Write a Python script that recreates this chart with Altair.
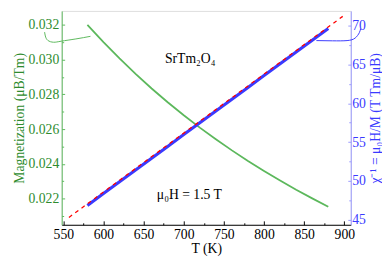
import altair as alt
import pandas as pd

# ---- data ----
T = [580, 600, 620, 640, 660, 680, 700, 720, 740, 760, 780, 800, 820, 840, 860, 880]
M = [0.03200, 0.03101, 0.03007, 0.02918, 0.02834, 0.02755, 0.02680, 0.02609,
     0.02542, 0.02478, 0.02417, 0.02360, 0.02305, 0.02252, 0.02202, 0.02154]
CHI_INV = [46.85, 48.37, 49.89, 51.41, 52.93, 54.45, 55.97, 57.49,
           59.01, 60.53, 62.05, 63.57, 65.09, 66.61, 68.13, 69.65]
FIT_T = [557, 898]
FIT_CHI = [45.3, 71.2]

# annotation hooks (data coordinates)
GA_T = [583.8, 565.7, 547.5, 537.9, 530.6, 527.6, 526.7]
GA_M = [0.03134, 0.03119, 0.03106, 0.03100, 0.03111, 0.03136, 0.03158]
BA_T = [865.2, 885.3, 903.4, 913.4, 918.7, 920.3]
BA_CHI = [68.08, 68.05, 68.08, 68.4, 69.1, 69.63]

X_TICKS = [550 + 25 * i for i in range(15)]
YL_TICKS = [0.021 + 0.001 * i for i in range(12)]
YR_TICKS = [45 + 2.5 * i for i in range(11)]

LABELS = ["SrTm₂O₄", "μ₀H = 1.5 T"]
LABEL_T = [708, 707]
LABEL_M = [0.03002, 0.02222]

GREEN = "#5cb85c"
GREEN_TXT = "#2e8b2e"
BLUE = "#3a3aff"
BLUE_AX = "#9a9aff"
RED = "#ff0000"
FONT = "Liberation Serif"

df_g = pd.DataFrame({"T": T, "M": M})
df_ga = pd.DataFrame({"T": GA_T, "M": GA_M, "i": range(len(GA_T))})
df_txt = pd.DataFrame({"T": LABEL_T, "M": LABEL_M, "txt": LABELS})
df_b = pd.DataFrame({"T": T, "C": CHI_INV})
df_fit = pd.DataFrame({"T": FIT_T, "C": FIT_CHI})
df_ba = pd.DataFrame({"T": BA_T, "C": BA_CHI, "i": range(len(BA_T))})

x_axis = alt.Axis(
    values=X_TICKS, title="T (K)", labelExpr="datum.value % 50 === 0 ? datum.label : ''",
    tickSize={"expr": "datum.value % 50 === 0 ? -4 : -2"}, tickColor="black",
    domainColor="black", labelColor="black", titleColor="black", labelFontSize=14,
    titleFontSize=14, labelPadding=7, titlePadding=0, labelFont=FONT, titleFont=FONT,
    grid=False, labelFlush=False, titleFontWeight="normal",
)
yl_axis = alt.Axis(
    values=YL_TICKS, title="Magnetization (μB/Tm)", orient="left",
    labelExpr="round(datum.value*1000) % 2 === 0 ? format(datum.value, '.3f') : ''",
    tickSize={"expr": "round(datum.value*1000) % 2 === 0 ? -3 : -2"}, tickColor=GREEN,
    domainColor=GREEN, labelColor=GREEN_TXT, titleColor=GREEN_TXT, labelFontSize=14,
    titleFontSize=14, labelPadding=6, titlePadding=2, labelFont=FONT, titleFont=FONT,
    grid=False, labelFlush=False, titleFontWeight="normal",
)
yr_axis = alt.Axis(
    values=YR_TICKS, title="χ⁻¹ = μ₀H/M (T Tm/μB)", orient="right",
    labelExpr="datum.value % 5 === 0 ? datum.label : ''",
    tickSize={"expr": "datum.value % 5 === 0 ? -3 : -2"}, tickColor=BLUE_AX,
    domainColor=BLUE_AX, labelColor=BLUE, titleColor=BLUE, labelFontSize=14,
    titleFontSize=14, labelPadding=4, titlePadding=3, labelFont=FONT, titleFont=FONT,
    grid=False, labelFlush=False, titleFontWeight="normal", titleAngle=270,
    titleBaseline="top",
)

x_enc = alt.X("T:Q", scale=alt.Scale(domain=[548, 908], nice=False, zero=False), axis=x_axis)
yl_enc = alt.Y("M:Q", scale=alt.Scale(domain=[0.0205, 0.0328], nice=False, zero=False), axis=yl_axis)
yr_enc = alt.Y("C:Q", scale=alt.Scale(domain=[44.35, 71.9], nice=False, zero=False), axis=yr_axis)

green = alt.Chart(df_g).mark_line(color=GREEN, strokeWidth=1.8).encode(x=x_enc, y=yl_enc)
green_hook = alt.Chart(df_ga).mark_line(color=GREEN, strokeWidth=1, interpolate="natural", clip=False).encode(
    x=x_enc, y=yl_enc, order="i:Q")
texts = alt.Chart(df_txt).mark_text(font=FONT, fontSize=14, color="black").encode(
    x=x_enc, y=yl_enc, text="txt:N")
left = alt.layer(green, green_hook, texts)

blue = alt.Chart(df_b).mark_line(color=BLUE, strokeWidth=3.2).encode(x=x_enc, y=yr_enc)
red = alt.Chart(df_fit).mark_line(color=RED, strokeWidth=1.3, strokeDash=[4, 4]).encode(x=x_enc, y=yr_enc)
blue_hook = alt.Chart(df_ba).mark_line(color=BLUE, strokeWidth=1, interpolate="natural", clip=False).encode(
    x=x_enc, y=yr_enc, order="i:Q")
right = alt.layer(blue, red, blue_hook)

chart = alt.layer(left, right).resolve_scale(y="independent").properties(
    width=296, height=219, padding={"left": 4, "top": 0, "right": 0, "bottom": 0}
).configure_view(stroke="#555555", strokeWidth=1).configure(background="white")

chart.save("out.html", embed_options={"renderer": "svg", "actions": False})
